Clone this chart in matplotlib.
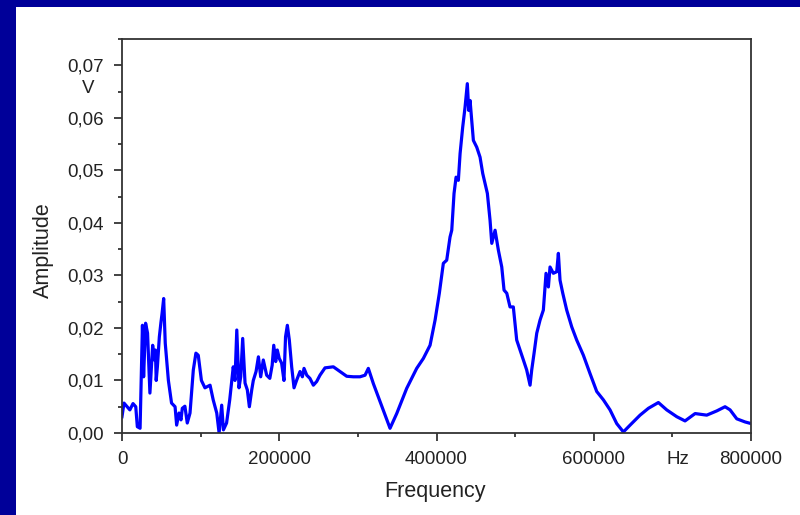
import matplotlib
matplotlib.use('Agg')
import matplotlib.pyplot as plt
from matplotlib.ticker import MultipleLocator, FuncFormatter
from matplotlib.patches import Rectangle

plt.rcParams['font.family'] = ['Liberation Sans', 'DejaVu Sans']

# spectrum (Hz, V)
freq = [0, 2500, 10000, 14000, 17500, 19500, 23000, 26000, 27500, 30000,
        32500, 35500, 39000, 41000, 42500, 43500, 45000, 47500, 49500, 51000,
        53000, 55000, 59000, 63000, 67500, 69500, 72500, 75000, 76700, 80000,
        83000, 86500, 90700, 94000, 97000, 101000, 105500, 112000, 116000, 120500,
        123500, 126800, 129000, 133000, 137000, 141500, 143700, 146000, 148800, 151000,
        153500, 156500, 159400, 162000, 165000, 167000, 170500, 173500, 176400, 179700,
        184000, 188000, 191000, 193000, 195500, 197500, 200000, 203000, 206000, 208000,
        210300, 212800, 215800, 218800, 222000, 226400, 229400, 231500, 235000, 239000,
        243400, 247600, 251800, 258200, 268800, 277300, 285800, 294200, 302700, 309100,
        313300, 319700, 328200, 340900, 349400, 362100, 374800, 383300, 391800, 398200,
        403600, 408700, 413000, 417200, 419400, 422300, 424900, 427800, 430000, 433300,
        436300, 439200, 441000, 442700, 446900, 451200, 455400, 458800, 461700, 464700,
        468100, 470300, 474500, 478700, 483000, 485900, 489400, 493500, 497700, 502000,
        506300, 510500, 514700, 519000, 521100, 524100, 527500, 531700, 535900, 539300,
        542300, 544400, 548600, 552900, 555000, 557100, 560600, 565600, 572000, 578300,
        586800, 595300, 603800, 612300, 620700, 629200, 637700, 646200, 658900, 669500,
        682200, 692800, 705600, 716100, 728900, 743700, 756400, 767000, 773400, 781900,
        792500, 800000]
amp = [0.0031, 0.0057, 0.0044, 0.0056, 0.0050, 0.0012, 0.0009, 0.0205, 0.0107, 0.0209,
       0.0190, 0.0076, 0.0167, 0.0139, 0.0158, 0.0100, 0.0126, 0.0183, 0.0210, 0.0228,
       0.0256, 0.0171, 0.0100, 0.0057, 0.0050, 0.0015, 0.0038, 0.0025, 0.0047, 0.0051,
       0.0019, 0.0038, 0.0120, 0.0152, 0.0148, 0.0100, 0.0086, 0.0091, 0.0063, 0.0038,
       0.0000, 0.0053, 0.0006, 0.0019, 0.0063, 0.0126, 0.0100, 0.0196, 0.0086, 0.0107,
       0.0180, 0.0095, 0.0082, 0.0050, 0.0082, 0.0100, 0.0117, 0.0145, 0.0107, 0.0139,
       0.0110, 0.0104, 0.0129, 0.0167, 0.0136, 0.0158, 0.0142, 0.0133, 0.0100, 0.0183,
       0.0205, 0.0177, 0.0126, 0.0086, 0.0100, 0.0117, 0.0107, 0.0123, 0.0110, 0.0104,
       0.0091, 0.0098, 0.0110, 0.0124, 0.0126, 0.0117, 0.0108, 0.0107, 0.0107, 0.0110,
       0.0123, 0.0094, 0.0060, 0.0009, 0.0037, 0.0085, 0.0123, 0.0142, 0.0167, 0.0215,
       0.0266, 0.0323, 0.0329, 0.0373, 0.0386, 0.0456, 0.0487, 0.0481, 0.0532, 0.0582,
       0.0620, 0.0665, 0.0614, 0.0633, 0.0557, 0.0544, 0.0525, 0.0494, 0.0475, 0.0456,
       0.0405, 0.0361, 0.0386, 0.0348, 0.0316, 0.0272, 0.0266, 0.0240, 0.0240, 0.0177,
       0.0158, 0.0139, 0.0120, 0.0091, 0.0120, 0.0152, 0.0190, 0.0215, 0.0234, 0.0304,
       0.0278, 0.0316, 0.0304, 0.0307, 0.0342, 0.0291, 0.0266, 0.0234, 0.0202, 0.0177,
       0.0148, 0.0113, 0.0079, 0.0063, 0.0044, 0.0018, 0.0002, 0.0015, 0.0034, 0.0047,
       0.0058, 0.0044, 0.0031, 0.0023, 0.0037, 0.0034, 0.0042, 0.0050, 0.0044, 0.0027,
       0.0021, 0.0018]

x_ticks = [0, 200000, 400000, 600000, 800000]
y_ticks = [0.00, 0.01, 0.02, 0.03, 0.04, 0.05, 0.06, 0.07]

NAVY = '#000099'
INK = '#222222'

fig = plt.figure(figsize=(8.0, 5.15), dpi=100)
fig.patch.set_facecolor('white')
# navy slide frame, top and left
fig.patches.append(Rectangle((0, 1 - 7 / 515), 1, 7 / 515, transform=fig.transFigure,
                             facecolor=NAVY, edgecolor='none', zorder=0))
fig.patches.append(Rectangle((0, 0), 16 / 800, 1, transform=fig.transFigure,
                             facecolor=NAVY, edgecolor='none', zorder=0))

ax = fig.add_axes([122 / 800, 82 / 515, 629 / 800, 394 / 515])
ax.plot(freq, amp, color='#0000ff', lw=2.3, solid_joinstyle='round')

ax.set_xlim(0, 800000)
ax.set_ylim(0, 0.075)
ax.set_xticks(x_ticks)
ax.set_yticks(y_ticks)
ax.xaxis.set_minor_locator(MultipleLocator(100000))
ax.yaxis.set_minor_locator(MultipleLocator(0.005))
ax.xaxis.set_major_formatter(FuncFormatter(lambda v, p: '%d' % v))
ax.yaxis.set_major_formatter(FuncFormatter(lambda v, p: ('%.2f' % v).replace('.', ',')))

ax.tick_params(which='both', direction='out', color=INK, width=1.2,
               top=False, right=False, labelcolor=INK, labelsize=13.5)
ax.tick_params(which='major', length=6)
ax.tick_params(which='minor', length=3)
ax.tick_params(axis='x', which='major', pad=7)
ax.tick_params(axis='y', which='major', pad=7)
for s in ax.spines.values():
    s.set_color('#333333')
    s.set_linewidth(1.3)

# unit labels sitting on the minor tick positions
ax.annotate('V', xy=(0, 0.065), xycoords=('axes fraction', 'data'),
            xytext=(-24.5, 2), textcoords='offset points',
            ha='center', va='center', fontsize=13.5, color=INK)
ax.annotate('Hz', xy=(700000, 0), xycoords=('data', 'axes fraction'),
            xytext=(4, -19), textcoords='offset points',
            ha='center', va='center', fontsize=13.5, color=INK)

fig.text(435 / 800, 1 - 492 / 515, 'Frequency', ha='center', va='center',
         fontsize=15.5, color=INK)
fig.text(43 / 800, 1 - 250 / 515, 'Amplitude', ha='center', va='center',
         rotation=90, fontsize=15.5, color=INK)

fig.savefig('out.png', dpi=100)
